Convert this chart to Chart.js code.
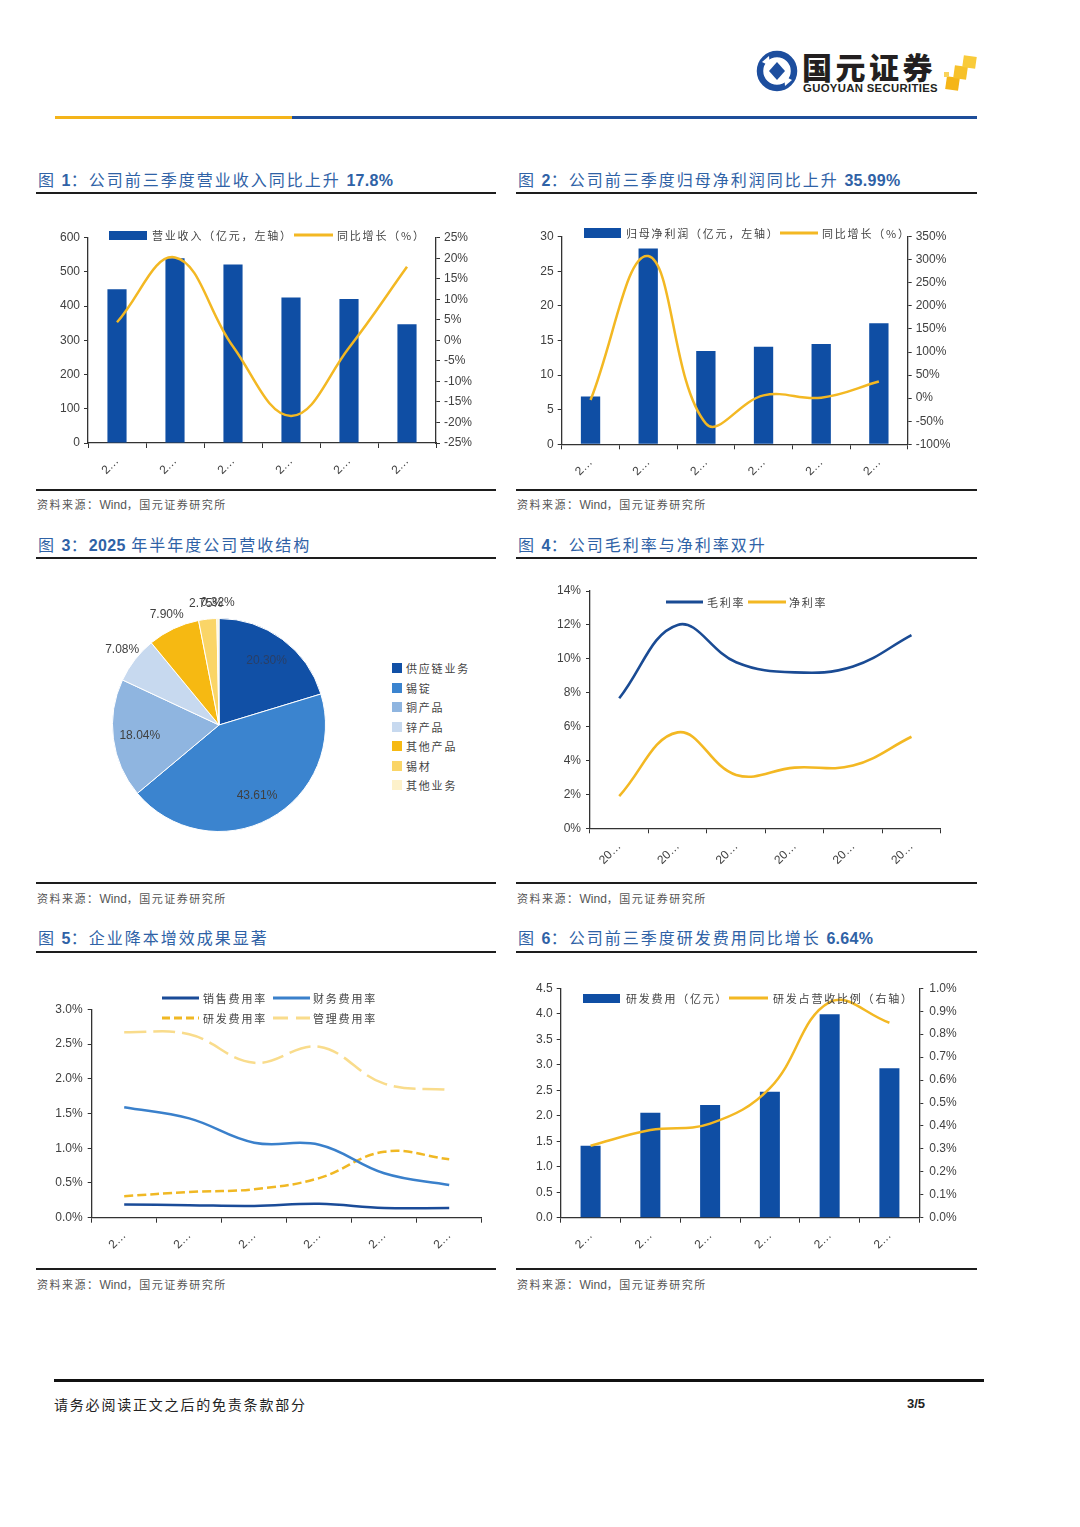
<!DOCTYPE html>
<html><head><meta charset="utf-8">
<script src="https://cdn.jsdelivr.net/npm/chart.js@4.4.0/dist/chart.umd.min.js"></script>
<style>
body{margin:0;width:1080px;height:1527px;background:#fff;position:relative;overflow:hidden;font-family:"Liberation Sans",Arial,"Noto Sans CJK SC",sans-serif}
.abs{position:absolute}
.title{position:absolute;font-size:16px;line-height:20px;color:#2F62A6;white-space:nowrap;font-family:"Noto Sans CJK SC",sans-serif;letter-spacing:2px}
.title b{font-family:"Liberation Sans",Arial,sans-serif;font-weight:bold;letter-spacing:0.3px}
.rule{position:absolute;height:2px;background:#1d1d1d}
.src{position:absolute;font-size:11px;line-height:16px;color:#555;font-family:"Noto Sans CJK SC",sans-serif;letter-spacing:1.5px;white-space:nowrap}
.src span{font-family:"Liberation Sans",Arial,sans-serif;letter-spacing:0;font-size:12px}
.lg{position:absolute;font-size:11px;line-height:14px;color:#444;font-family:"Noto Sans CJK SC",sans-serif;letter-spacing:1.8px;white-space:nowrap}
canvas{position:absolute}
</style>
</head>
<body>
<!-- header logo -->
<svg class="abs" style="left:756px;top:50px" width="42" height="42" viewBox="0 0 42 42">
  <circle cx="21" cy="21" r="17" fill="none" stroke="#1D4E9E" stroke-width="6.5"/>
  <path d="M6 12 L13 6 L14 16Z" fill="#fff"/>
  <path d="M36 30 L29 36 L28 26Z" fill="#fff"/>
  <path d="M21 12 L29 21 L21 30 L13 21Z" fill="#1D4E9E"/>
</svg>
<div class="abs" style="left:802px;top:50px;font-family:'Noto Sans CJK SC';font-weight:900;font-size:30px;line-height:32px;color:#231f20;letter-spacing:3.5px">国元证券</div>
<div class="abs" style="left:803px;top:81px;font-family:'Liberation Sans',Arial;font-weight:bold;font-size:11.3px;line-height:14px;color:#231f20;letter-spacing:0.35px">GUOYUAN SECURITIES</div>
<div class="abs" style="left:946px;top:77px;width:13px;height:13px;background:#F5B517;transform:rotate(8deg)"></div>
<div class="abs" style="left:954px;top:66px;width:13px;height:13px;background:#F7C12A;transform:rotate(8deg)"></div>
<div class="abs" style="left:963px;top:56px;width:13px;height:12px;background:#F9CB3A;transform:rotate(8deg)"></div>
<div class="abs" style="left:944px;top:72px;width:5px;height:5px;background:#F9D35A"></div>
<div class="abs" style="left:55px;top:116px;width:237px;height:3px;background:#F4B41A"></div>
<div class="abs" style="left:292px;top:116px;width:685px;height:3px;background:#1E4E9A"></div>

<!-- titles & rules -->
<div class="title" style="left:38px;top:169px">图 <b>1</b>：公司前三季度营业收入同比上升 <b>17.8%</b></div>
<div class="title" style="left:518px;top:169px">图 <b>2</b>：公司前三季度归母净利润同比上升 <b>35.99%</b></div>
<div class="rule" style="left:36px;top:192px;width:460px"></div>
<div class="rule" style="left:516px;top:192px;width:461px"></div>
<div class="rule" style="left:36px;top:489px;width:460px"></div>
<div class="rule" style="left:516px;top:489px;width:461px"></div>
<div class="src" style="left:37px;top:496px">资料来源：<span>Wind</span>，国元证券研究所</div>
<div class="src" style="left:517px;top:496px">资料来源：<span>Wind</span>，国元证券研究所</div>

<div class="title" style="left:38px;top:534px">图 <b>3</b>：<b>2025</b> 年半年度公司营收结构</div>
<div class="title" style="left:518px;top:534px">图 <b>4</b>：公司毛利率与净利率双升</div>
<div class="rule" style="left:36px;top:557px;width:460px"></div>
<div class="rule" style="left:516px;top:557px;width:461px"></div>
<div class="rule" style="left:36px;top:882px;width:460px"></div>
<div class="rule" style="left:516px;top:882px;width:461px"></div>
<div class="src" style="left:37px;top:890px">资料来源：<span>Wind</span>，国元证券研究所</div>
<div class="src" style="left:517px;top:890px">资料来源：<span>Wind</span>，国元证券研究所</div>

<div class="title" style="left:38px;top:927px">图 <b>5</b>：企业降本增效成果显著</div>
<div class="title" style="left:518px;top:927px">图 <b>6</b>：公司前三季度研发费用同比增长 <b>6.64%</b></div>
<div class="rule" style="left:36px;top:951px;width:460px"></div>
<div class="rule" style="left:516px;top:951px;width:461px"></div>
<div class="rule" style="left:36px;top:1268px;width:460px"></div>
<div class="rule" style="left:516px;top:1268px;width:461px"></div>
<div class="src" style="left:37px;top:1276px">资料来源：<span>Wind</span>，国元证券研究所</div>
<div class="src" style="left:517px;top:1276px">资料来源：<span>Wind</span>，国元证券研究所</div>

<!-- footer -->
<div class="abs" style="left:54px;top:1379px;width:930px;height:3px;background:#111"></div>
<div class="abs" style="left:54px;top:1395px;font-family:'Noto Sans CJK SC';font-size:14px;line-height:18px;color:#222;letter-spacing:1.8px">请务必阅读正文之后的免责条款部分</div>
<div class="abs" style="left:907px;top:1396px;font-family:'Liberation Sans',Arial;font-weight:bold;font-size:13px;line-height:16px;color:#222">3/5</div>

<canvas id="c1" width="440" height="275" style="left:40px;top:215px"></canvas>
<canvas id="c2" width="450" height="275" style="left:520px;top:215px"></canvas>
<canvas id="c3" width="260" height="260" style="left:89px;top:595px"></canvas>
<canvas id="c4" width="450" height="300" style="left:520px;top:575px"></canvas>
<canvas id="c5" width="450" height="275" style="left:40px;top:990px"></canvas>
<canvas id="c6" width="450" height="290" style="left:520px;top:975px"></canvas>

<script>
// ---------- data ----------
const categories = ['2020','2021','2022','2023','2024','2025前三季度'];
// Fig 1
const revenue = [449, 540, 522, 425, 421, 347];
const revenueYoY = [4.4, 20.2, -1.5, -18.4, -1.8, 17.9];
const revTicksRight = {min:-25, max:25, step:5};
// Fig 2
const netProfit = [6.9, 28.3, 13.5, 14.1, 14.5, 17.5];
const netProfitYoY = [-4, 308, -55, 6, 1, 36];
// Fig 3
const pieLabels = ['供应链业务','锡锭','铜产品','锌产品','其他产品','锡材','其他业务'];
const pieValues = [20.30, 43.61, 18.04, 7.08, 7.90, 2.75, 0.32];
// Fig 4
const grossMargin = [7.67, 12.0, 9.8, 9.2, 9.55, 11.4];
const netMargin = [1.9, 5.66, 3.15, 3.58, 3.7, 5.4];
// Fig 5
const salesRate = [0.19, 0.18, 0.17, 0.20, 0.14, 0.14];
const financeRate = [1.59, 1.43, 1.08, 1.05, 0.64, 0.47];
const rdRate = [0.31, 0.37, 0.41, 0.57, 0.95, 0.84];
const adminRate = [2.67, 2.64, 2.23, 2.46, 1.93, 1.84];
// Fig 6
const rdExpense = [1.41, 2.06, 2.21, 2.47, 3.99, 2.93];
const rdRatio = [0.314, 0.382, 0.41, 0.565, 0.94, 0.85];

const names1 = ['营业收入（亿元，左轴）','同比增长（%）'];
const names2 = ['归母净利润（亿元，左轴）','同比增长（%）'];
const names4 = ['毛利率','净利率'];
const names5 = ['销售费用率','财务费用率','研发费用率','管理费用率'];
const names6 = ['研发费用（亿元）','研发占营收比例（右轴）'];

// ---------- styles ----------
const BLUE = '#0F4EA4', GOLD = '#F3B823';
const C5 = ['#1A4B98','#3A80CB','#F0B824','#F9DC8C'];
const pieColors = ['#1150A6','#3B84CF','#8FB5E0','#C7D9EF','#F6B912','#FAD567','#FDF1CA'];
const tickFont = {family:'"Liberation Sans", Arial, sans-serif', size:12};
const AX = '#333';

function addEl(h){document.body.insertAdjacentHTML('beforeend',h);}
function legBox(x,y,w,h,c){addEl(`<div class="abs" style="left:${x}px;top:${y}px;width:${w}px;height:${h}px;background:${c}"></div>`);}
function legLine(x,y,w,c,lw,dash){addEl(`<svg class="abs" style="left:${x}px;top:${y-5}px" width="${w}" height="10"><line x1="0" y1="5" x2="${w}" y2="5" stroke="${c}" stroke-width="${lw}" ${dash?'stroke-dasharray="'+dash+'"':''}/></svg>`);}
function legText(x,yc,t){addEl(`<div class="lg" style="left:${x}px;top:${yc-7}px">${t}</div>`);}

function xAxis(h, nChars){
  return {offset:true,
    grid:{offset:true, drawOnChartArea:false, drawTicks:true, tickLength:5, color:AX, lineWidth:1},
    border:{display:true, color:AX, width:1.3},
    ticks:{autoSkip:false, minRotation:45, maxRotation:45, padding:6, color:'#404040', font:tickFont,
      callback:(v,i)=>categories[i].slice(0,nChars)+'…'},
    afterFit:s=>{s.height=h;}};
}
function yAxis(pos, w, min, max, step, fmt, pad){
  return {position:pos, min:min, max:max,
    grid:{drawOnChartArea:false, drawTicks:true, tickLength:4, color:AX, lineWidth:1},
    border:{display:true, color:AX, width:1.3},
    ticks:{stepSize:step, color:'#404040', font:tickFont, padding:pad||4, callback:fmt},
    afterFit:s=>{s.width=w;}};
}
const baseOpts = {responsive:false, animation:false, devicePixelRatio:1,
  plugins:{legend:{display:false}, tooltip:{enabled:false}}};

// ---------- Fig 1 ----------
new Chart(document.getElementById('c1'), {
  type:'bar',
  data:{labels:categories, datasets:[
    {type:'line', label:names1[1], data:revenueYoY, yAxisID:'y1', borderColor:GOLD, borderWidth:2.5, pointRadius:0, tension:0.4, order:0},
    {type:'bar', label:names1[0], data:revenue, yAxisID:'y', backgroundColor:BLUE, barPercentage:0.33, categoryPercentage:1, order:1}
  ]},
  options:Object.assign({}, baseOpts, {layout:{padding:{top:22.7, left:0, right:0, bottom:0}},
    scales:{x:xAxis(47,1), y:yAxis('left',48,0,600,100,v=>v), y1:yAxis('right',44,revTicksRight.min,revTicksRight.max,revTicksRight.step,v=>v+'%')}})
});
legBox(109,231,38,9,BLUE); legText(152,235,names1[0]);
legLine(294,235,39,GOLD,3); legText(337,235,names1[1]);

// ---------- Fig 2 ----------
new Chart(document.getElementById('c2'), {
  type:'bar',
  data:{labels:categories, datasets:[
    {type:'line', label:names2[1], data:netProfitYoY, yAxisID:'y1', borderColor:GOLD, borderWidth:2.5, pointRadius:0, tension:0.4, order:0},
    {type:'bar', label:names2[0], data:netProfit, yAxisID:'y', backgroundColor:BLUE, barPercentage:0.335, categoryPercentage:1, order:1}
  ]},
  options:Object.assign({}, baseOpts, {layout:{padding:{top:21.7, left:0, right:0, bottom:0}},
    scales:{x:xAxis(45.7,1), y:yAxis('left',41.7,0,30,5,v=>v), y1:yAxis('right',62.3,-100,350,50,v=>v+'%')}})
});
legBox(584,228,37,10,BLUE); legText(626,233,names2[0]);
legLine(780,233,38,GOLD,3); legText(822,233,names2[1]);

// ---------- Fig 3 (pie) ----------
const pieLabelPlugin = {id:'pieLabels', afterDatasetsDraw(chart){
  const ctx = chart.ctx, meta = chart.getDatasetMeta(0);
  ctx.save(); ctx.font = '12px "Liberation Sans", Arial, sans-serif';
  ctx.textAlign = 'center'; ctx.textBaseline = 'middle';
  meta.data.forEach((arc,i)=>{
    const p = arc.getProps(['x','y','startAngle','endAngle','outerRadius'], true);
    const mid = (p.startAngle + p.endAngle)/2, v = pieValues[i];
    const d = v > 10 ? p.outerRadius*0.75 : p.outerRadius + 16;
    ctx.fillStyle = i === 0 ? '#2a3f66' : '#404040';
    ctx.fillText(v.toFixed(2)+'%', p.x + Math.cos(mid)*d, p.y + Math.sin(mid)*d);
  });
  ctx.restore();
}};
new Chart(document.getElementById('c3'), {
  type:'pie',
  data:{labels:pieLabels, datasets:[{data:pieValues, backgroundColor:pieColors, borderColor:'#fff', borderWidth:1, hoverOffset:0}]},
  options:Object.assign({}, baseOpts, {layout:{padding:23}}),
  plugins:[pieLabelPlugin]
});
pieLabels.forEach((n,i)=>{ legBox(392, 663+i*19.5, 10, 10, pieColors[i]); legText(406, 668+i*19.5, n); });

// ---------- Fig 4 ----------
new Chart(document.getElementById('c4'), {
  type:'line',
  data:{labels:categories, datasets:[
    {label:names4[0], data:grossMargin, borderColor:'#1A4B94', borderWidth:2.6, pointRadius:0, tension:0.4},
    {label:names4[1], data:netMargin, borderColor:GOLD, borderWidth:2.6, pointRadius:0, tension:0.4}
  ]},
  options:Object.assign({}, baseOpts, {layout:{padding:{top:16, right:29.3, left:0, bottom:0}},
    scales:{x:xAxis(46.7,2), y:yAxis('left',70,0,14,2,v=>v+'%',5)}})
});
legLine(666,602,37,'#1A4B94',3); legText(707,602,names4[0]);
legLine(748,602,38,GOLD,3); legText(789,602,names4[1]);

// ---------- Fig 5 ----------
new Chart(document.getElementById('c5'), {
  type:'line',
  data:{labels:categories, datasets:[
    {label:names5[0], data:salesRate, borderColor:C5[0], borderWidth:2.5, pointRadius:0, tension:0.4},
    {label:names5[1], data:financeRate, borderColor:C5[1], borderWidth:2.5, pointRadius:0, tension:0.4},
    {label:names5[2], data:rdRate, borderColor:C5[2], borderWidth:2.5, borderDash:[9,4], pointRadius:0, tension:0.4},
    {label:names5[3], data:adminRate, borderColor:C5[3], borderWidth:2.5, borderDash:[22,7], pointRadius:0, tension:0.4}
  ]},
  options:Object.assign({}, baseOpts, {layout:{padding:{top:19.3, right:8.3, left:0, bottom:0}},
    scales:{x:xAxis(47.3,1), y:yAxis('left',51.7,0,3,0.5,v=>v.toFixed(1)+'%',5)}})
});
legLine(162,998,37,C5[0],3); legText(203,998,names5[0]);
legLine(273,998,37,C5[1],3); legText(313,998,names5[1]);
legLine(162,1018,37,C5[2],3,'8,4'); legText(203,1018,names5[2]);
legLine(273,1018,37,C5[3],3,'15,8'); legText(313,1018,names5[3]);

// ---------- Fig 6 ----------
new Chart(document.getElementById('c6'), {
  type:'bar',
  data:{labels:categories, datasets:[
    {type:'line', label:names6[1], data:rdRatio, yAxisID:'y1', borderColor:GOLD, borderWidth:2.5, pointRadius:0, tension:0.4, order:0},
    {type:'bar', label:names6[0], data:rdExpense, yAxisID:'y', backgroundColor:BLUE, barPercentage:0.335, categoryPercentage:1, order:1}
  ]},
  options:Object.assign({}, baseOpts, {layout:{padding:{top:13.3, left:0, right:0, bottom:0}},
    scales:{x:xAxis(47.3,1), y:yAxis('left',40.7,0,4.5,0.5,v=>v.toFixed(1),4), y1:yAxis('right',50.7,0,1,0.1,v=>v.toFixed(1)+'%',6)}})
});
legBox(583,994,37,9,BLUE); legText(626,998,names6[0]);
legLine(729,998,39,GOLD,3); legText(773,998,names6[1]);
</script>
</body></html>
